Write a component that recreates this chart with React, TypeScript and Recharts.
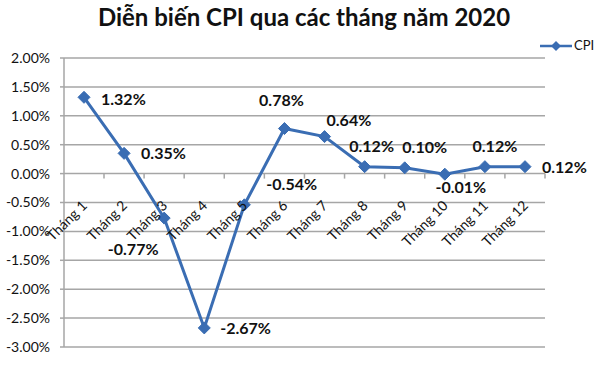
import { LineChart, Line, XAxis, YAxis, CartesianGrid, LabelList } from "recharts";

// ─── Data ─────────────────────────────────────────────────────────────
const months = [
  "Tháng 1", "Tháng 2", "Tháng 3", "Tháng 4", "Tháng 5", "Tháng 6",
  "Tháng 7", "Tháng 8", "Tháng 9", "Tháng 10", "Tháng 11", "Tháng 12",
];
const cpi = [1.32, 0.35, -0.77, -2.67, -0.54, 0.78, 0.64, 0.12, 0.1, -0.01, 0.12, 0.12];
const yTicks = [-3, -2.5, -2, -1.5, -1, -0.5, 0, 0.5, 1, 1.5, 2];

const data = months.map((m, i) => ({ month: m, cpi: cpi[i] }));

// ─── Layout / style ───────────────────────────────────────────────────
const W = 600;
const H = 367;
const PLOT_TOP = 58;
const PLOT_BOTTOM = 347;
const Y_MIN = -3;
const Y_MAX = 2;
const ZERO_Y = PLOT_TOP + ((Y_MAX - 0) / (Y_MAX - Y_MIN)) * (PLOT_BOTTOM - PLOT_TOP);
const BAND = 40;

const BLUE = "#3a6db3";
const GRID = "#a6a6a6";
const FONT = "Lato, 'Open Sans', sans-serif";

// label placement per point: dx, dy, anchor
const labelPos: [number, number, "start" | "middle" | "end"][] = [
  [17, 4, "start"],
  [17, 2, "start"],
  [-31, 33, "middle"],
  [16, 2, "start"],
  [22, -19, "start"],
  [-3, -27, "middle"],
  [2, -15, "start"],
  [7, -19, "middle"],
  [20, -19, "middle"],
  [16, 15, "middle"],
  [10, -19, "middle"],
  [17, 2, "start"],
];

const fmt = (v: number) => `${v.toFixed(2)}%`;

function Diamond(props: any) {
  const { cx, cy } = props;
  if (cx == null || cy == null) return null;
  const r = 6;
  return (
    <path
      d={`M${cx},${cy - r}L${cx + r},${cy}L${cx},${cy + r}L${cx - r},${cy}Z`}
      fill={BLUE}
      stroke={BLUE}
      strokeWidth={1}
    />
  );
}

function MonthTick(props: any) {
  const { x, payload } = props;
  const ax = x + 4;
  const ay = ZERO_Y + 33;
  return (
    <g>
      <line x1={x + BAND / 2} x2={x + BAND / 2} y1={ZERO_Y} y2={ZERO_Y + 5} stroke={GRID} strokeWidth={1.5} />
      <text
        x={ax}
        y={ay}
        transform={`rotate(-45 ${ax} ${ay})`}
        textAnchor="end"
        fontSize={14}
        fontFamily={FONT}
        fill="#111"
      >
        {payload.value}
      </text>
    </g>
  );
}

function PointLabel(props: any) {
  const { x, y, index, value } = props;
  const [dx, dy, anchor] = labelPos[index];
  return (
    <text
      x={x + dx}
      y={y + dy}
      textAnchor={anchor}
      dominantBaseline="middle"
      fontSize={16}
      fontWeight="bold"
      fontFamily={FONT}
      fill="#111"
    >
      {fmt(value)}
    </text>
  );
}

export default function App() {
  return (
    <div style={{ position: "absolute", left: 0, top: 0, width: W, height: H, background: "#fff" }}>
      <div
        style={{
          position: "absolute",
          top: 0,
          left: 0,
          width: W,
          textAlign: "center",
          fontFamily: FONT,
          fontWeight: "bold",
          fontSize: 24,
          lineHeight: "34px",
          color: "#111",
          paddingLeft: 8,
          boxSizing: "border-box",
        }}
      >
        Diễn biến CPI qua các tháng năm 2020
      </div>
      <svg style={{ position: "absolute", left: 538, top: 36 }} width={62} height={20}>
        <line x1={2} x2={34} y1={10} y2={10} stroke={BLUE} strokeWidth={2.5} />
        <path d="M18,5L23,10L18,15L13,10Z" fill={BLUE} />
        <text x={36} y={14} fontSize={13} fontFamily={FONT} fill="#111">CPI</text>
      </svg>
      <LineChart
        width={W}
        height={H}
        data={data}
        margin={{ top: PLOT_TOP, right: W - 545, bottom: 0, left: 0 }}
      >
        <CartesianGrid vertical={false} stroke={GRID} strokeWidth={1.5} />
        <YAxis
          type="number"
          domain={[Y_MIN, Y_MAX]}
          ticks={yTicks}
          interval={0}
          width={64}
          tickFormatter={fmt}
          tick={{ fill: "#111", fontSize: 14, fontFamily: FONT }}
          tickSize={4}
          tickMargin={10}
          axisLine={{ stroke: GRID, strokeWidth: 1.5 }}
          tickLine={{ stroke: GRID, strokeWidth: 1.5 }}
        />
        <XAxis
          dataKey="month"
          height={H - PLOT_BOTTOM}
          axisLine={false}
          tickLine={false}
          interval={0}
          padding={{ left: BAND / 2, right: BAND / 2 }}
          tick={<MonthTick />}
        />
        <Line
          type="linear"
          dataKey="cpi"
          stroke={BLUE}
          strokeWidth={3}
          dot={<Diamond />}
          activeDot={false}
          isAnimationActive={false}
        >
          <LabelList dataKey="cpi" content={<PointLabel />} />
        </Line>
      </LineChart>
    </div>
  );
}
